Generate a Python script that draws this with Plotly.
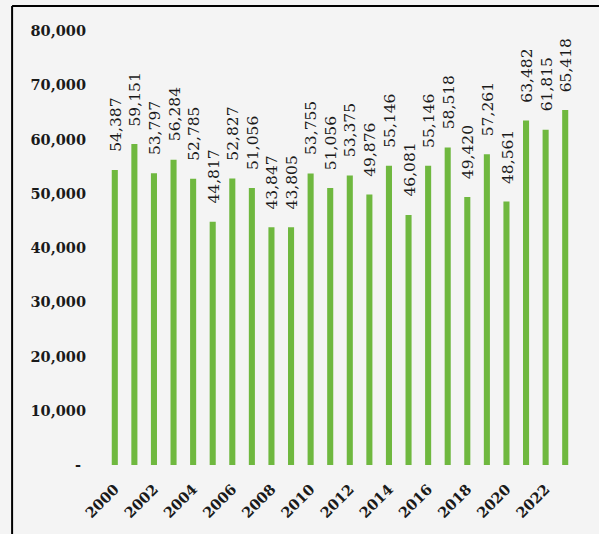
import plotly.graph_objects as go

years = list(range(2000, 2024))
values = [54387, 59151, 53797, 56284, 52785, 44817, 52827, 51056, 43847, 43805,
          53755, 51056, 53375, 49876, 55146, 46081, 55146, 58518, 49420, 57261,
          48561, 63482, 61815, 65418]
y_tickvals = [0, 10000, 20000, 30000, 40000, 50000, 60000, 70000, 80000]
y_ticktext = ["-\u00a0", "10,000", "20,000", "30,000", "40,000", "50,000",
              "60,000", "70,000", "80,000"]
x_tickvals = years[::2]
x_ticktext = [str(y) for y in x_tickvals]

W, H = 599, 534
L, R, T, B = 105, 23.5, 31, 69
pw, ph = W - L - R, H - T - B

fig = go.Figure()
fig.add_trace(go.Bar(x=years, y=values, marker=dict(color="#6fb83f", line=dict(width=0)),
                     hoverinfo="x+y"))

for yr, v in zip(years, values):
    fig.add_annotation(x=yr, y=v, text=f"{v:,}", showarrow=False, textangle=-90,
                       yanchor="bottom", xanchor="center", yshift=16, xshift=1,
                       font=dict(family="DejaVu Serif", size=15.5, color="#1a1a1a"))

def px_x(p):
    return (p - L) / pw

def px_y(p):
    return (H - B - p) / ph

fig.add_shape(type="line", xref="paper", yref="paper",
              x0=px_x(12), x1=px_x(12), y0=px_y(540), y1=px_y(6),
              line=dict(color="black", width=2))
fig.add_shape(type="line", xref="paper", yref="paper",
              x0=px_x(12), x1=px_x(605), y0=px_y(6), y1=px_y(6),
              line=dict(color="black", width=2))

fig.update_layout(
    width=W, height=H,
    margin=dict(l=L, r=R, t=T, b=B),
    paper_bgcolor="#f4f4f4", plot_bgcolor="#f4f4f4",
    bargap=0.69, showlegend=False,
    xaxis=dict(range=[1999.5, 2023.5], tickmode="array", tickvals=x_tickvals,
               ticktext=x_ticktext, tickangle=-45, showgrid=False, zeroline=False,
               showline=False, ticks="", ticklabelstandoff=12,
               tickfont=dict(family="DejaVu Serif", size=14.5, color="#1a1a1a", weight="bold")),
    yaxis=dict(range=[0, 80000], tickmode="array", tickvals=y_tickvals,
               ticktext=y_ticktext, showgrid=False, zeroline=False, showline=False,
               ticks="", ticklabelstandoff=18,
               tickfont=dict(family="DejaVu Serif", size=14.5, color="#1a1a1a", weight="bold")),
)

fig.write_html("out.html", config={"displayModeBar": False},
               post_script="document.body.style.margin='0';document.body.style.background='#f4f4f4';")
